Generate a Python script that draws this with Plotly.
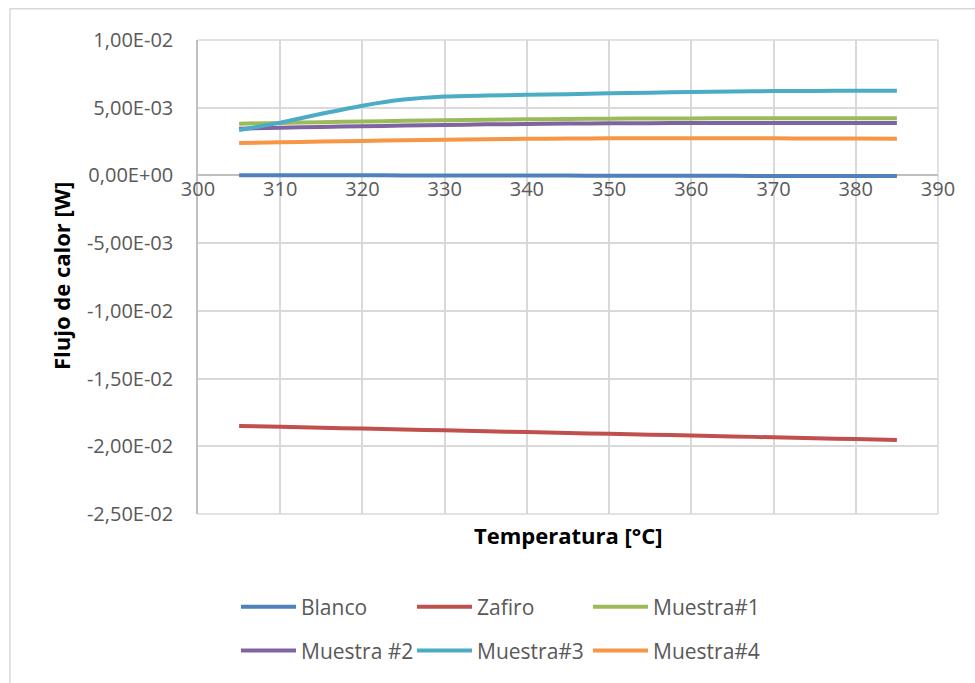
import plotly.graph_objects as go

temperatura = [305, 310, 315, 320, 325, 330, 335, 340, 345, 350, 355, 360, 365, 370, 375, 380, 385]

blanco = [0.00002, 0.00002, 0.00001, 0.00001, 0.0, 0.0, 0.0, -0.00001, -0.00001, -0.00002,
          -0.00002, -0.00003, -0.00003, -0.00004, -0.00004, -0.00005, -0.00005]
zafiro = [-0.01850, -0.01856, -0.01863, -0.01869, -0.01876, -0.01882, -0.01889, -0.01895, -0.01902,
          -0.01908, -0.01914, -0.01921, -0.01927, -0.01934, -0.01940, -0.01947, -0.01953]
muestra1 = [0.00382, 0.00388, 0.00393, 0.00398, 0.00403, 0.00407, 0.00411, 0.00414, 0.00417,
            0.00419, 0.00420, 0.00421, 0.00422, 0.00422, 0.00423, 0.00423, 0.00423]
muestra2 = [0.00345, 0.00352, 0.00358, 0.00363, 0.00368, 0.00373, 0.00377, 0.00380, 0.00383,
            0.00385, 0.00386, 0.00387, 0.00388, 0.00388, 0.00388, 0.00388, 0.00388]
muestra3 = [0.00335, 0.00390, 0.00455, 0.00515, 0.00560, 0.00583, 0.00590, 0.00595, 0.00600,
            0.00606, 0.00611, 0.00616, 0.00620, 0.00623, 0.00624, 0.00625, 0.00625]
muestra4 = [0.00240, 0.00245, 0.00250, 0.00255, 0.00260, 0.00264, 0.00267, 0.00270, 0.00272,
            0.00274, 0.00275, 0.00275, 0.00275, 0.00274, 0.00273, 0.00272, 0.00271]

series_names = ["Blanco", "Zafiro", "Muestra#1", "Muestra #2", "Muestra#3", "Muestra#4"]
series_values = [blanco, zafiro, muestra1, muestra2, muestra3, muestra4]
series_colors = ["#4F81BD", "#C0504D", "#9BBB59", "#8064A2", "#4BACC6", "#F79646"]

y_tickvals = [0.01, 0.005, 0.0, -0.005, -0.01, -0.015, -0.02, -0.025]
y_ticktext = ["1,00E-02", "5,00E-03", "0,00E+00", "-5,00E-03", "-1,00E-02", "-1,50E-02", "-2,00E-02", "-2,50E-02"]
x_tickvals = [300, 310, 320, 330, 340, 350, 360, 370, 380, 390]

FONT = "Open Sans"
TXT = "#595959"
GRID = "#d9d9d9"

fig = go.Figure()
for i, (name, vals, col) in enumerate(zip(series_names, series_values, series_colors)):
    fig.add_trace(go.Scatter(
        x=temperatura, y=vals, name=name, mode="lines",
        line=dict(color=col, width=4, shape="spline", smoothing=0.6),
        legend="legend" if i < 3 else "legend2",
    ))

# plot area in px: x 198..938, y 40..516
L, R, T, B = 198, 938, 40, 516
W, H = 975, 683
pw, ph = R - L, B - T

def px_x(p):
    return (p - L) / pw

def px_y(p):
    return (B - p) / ph

YMIN, YMAX = -0.025, 0.01

legend_common = dict(
    orientation="h", xanchor="left", yanchor="bottom",
    font=dict(family=FONT, size=21, color=TXT), itemwidth=55,
    entrywidth=106, entrywidthmode="pixels", bgcolor="rgba(0,0,0,0)", tracegroupgap=0,
)

fig.update_layout(
    width=W, height=H,
    margin=dict(l=L, r=W - R, t=T, b=H - B),
    paper_bgcolor="white", plot_bgcolor="rgba(0,0,0,0)",
    font=dict(family=FONT, color=TXT, size=20),
    showlegend=True,
    xaxis=dict(
        range=[300, 390], tickvals=x_tickvals, ticktext=[str(v) for v in x_tickvals],
        showgrid=True, gridcolor=GRID, gridwidth=1.5,
        showline=False, zeroline=False, ticks="",
        anchor="free", position=(0 - YMIN) / (YMAX - YMIN),
        tickfont=dict(family=FONT, size=20, color=TXT),
    ),
    yaxis=dict(
        range=[YMIN, YMAX], tickvals=y_tickvals, ticktext=y_ticktext,
        showgrid=True, gridcolor=GRID, gridwidth=1.5,
        zeroline=True, zerolinecolor="#bfbfbf", zerolinewidth=1.5,
        showline=True, linecolor="#bfbfbf", linewidth=1.5,
        ticks="", ticklabelstandoff=19,
        tickfont=dict(family=FONT, size=20, color=TXT),
    ),
    legend=dict(x=px_x(236), y=px_y(630), **legend_common),
    legend2=dict(x=px_x(236), y=px_y(674), **legend_common),
    annotations=[
        dict(text="<b>Temperatura [°C]</b>", x=0.5, y=px_y(537), xref="paper", yref="paper",
             showarrow=False, font=dict(family=FONT, size=22, color="#000000"),
             xanchor="center", yanchor="middle"),
        dict(text="<b>Flujo de calor [W]</b>", x=px_x(61), y=px_y(277), xref="paper", yref="paper",
             showarrow=False, textangle=-90, font=dict(family=FONT, size=22, color="#000000"),
             xanchor="center", yanchor="middle"),
    ],
    shapes=[
        dict(type="rect", xref="paper", yref="paper",
             x0=px_x(10), x1=px_x(990), y0=px_y(700), y1=px_y(8.5),
             line=dict(color=GRID, width=1.5), fillcolor="rgba(0,0,0,0)", layer="below"),
        dict(type="line", xref="paper", yref="paper", x0=0, x1=1, y0=1, y1=1,
             line=dict(color=GRID, width=1.5), layer="below"),
        dict(type="line", xref="paper", yref="paper", x0=0, x1=1, y0=0, y1=0,
             line=dict(color=GRID, width=1.5), layer="below"),
        dict(type="line", xref="paper", yref="paper", x0=1, x1=1, y0=0, y1=1,
             line=dict(color=GRID, width=1.5), layer="below"),
    ],
)

fig.write_html("out.html")
